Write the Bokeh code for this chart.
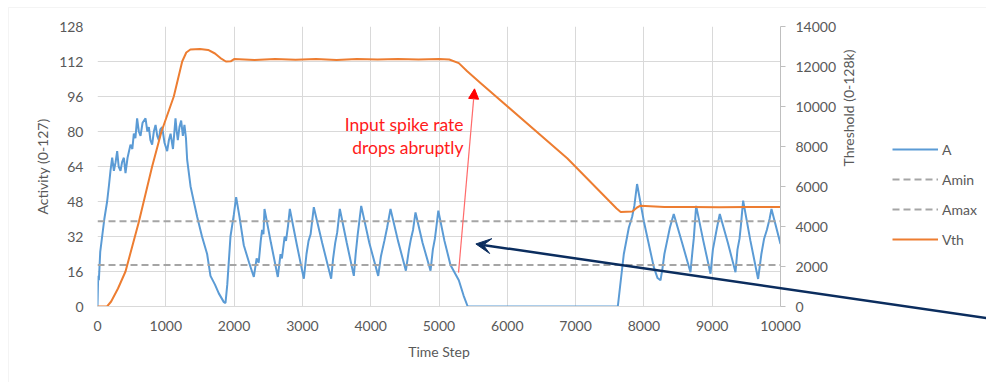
import math
from bokeh.plotting import figure
from bokeh.layouts import column
from bokeh.models import (Range1d, LinearAxis, Legend, LegendItem, Arrow, VeeHead,
                          NormalHead, Label, BoxAnnotation, FixedTicker)
from bokeh.embed import file_html
from bokeh.resources import INLINE

# ---------------- data ----------------
time_a = [0, 10, 20, 40, 68, 100, 141, 170, 190, 215,
          240, 265, 288, 310, 337, 360, 386, 410, 440, 483,
          510, 532, 555, 580, 605, 630, 660, 703, 730, 752,
          775, 800, 825, 850, 875, 898, 920, 947, 980, 1020,
          1045, 1070, 1105, 1142, 1160, 1176, 1200, 1225, 1250, 1273,
          1295, 1313, 1362, 1410, 1459, 1530, 1605, 1654, 1720, 1776,
          1850, 1874, 1900, 1947, 1996, 2030, 2079, 2142, 2220, 2289,
          2330, 2360, 2390, 2410, 2430, 2445, 2540, 2640, 2680, 2700,
          2740, 2760, 2790, 2816, 2920, 3021, 3060, 3090, 3120, 3167,
          3290, 3421, 3450, 3480, 3510, 3548, 3650, 3753, 3780, 3810,
          3830, 3861, 3980, 4110, 4150, 4200, 4240, 4290, 4400, 4515,
          4560, 4590, 4620, 4656, 4760, 4876, 4910, 4940, 4960, 4990,
          5080, 5168, 5290, 5360, 5420, 7618, 7650, 7706, 7779, 7828,
          7860, 7900, 7999, 8145, 8200, 8243, 8270, 8300, 8340, 8380,
          8437, 8560, 8682, 8710, 8730, 8765, 8870, 8975, 9010, 9040,
          9070, 9111, 9230, 9341, 9370, 9400, 9420, 9453, 9560, 9672,
          9720, 9760, 9800, 9840, 9868, 10000]
activity = [0, 14, 12, 25, 32, 40, 48, 56, 62, 68,
            62, 66, 71, 64, 62, 66, 68, 61, 68, 74,
            72, 79, 77, 86, 80, 78, 84, 86, 80, 82,
            76, 74, 80, 83, 78, 76, 81, 82, 75, 71,
            76, 79, 72, 86, 80, 76, 82, 85, 78, 83,
            77, 67, 55, 48, 41, 32, 24, 14, 10, 6,
            2, 1.6, 10, 32, 42, 50, 41, 28, 20, 13.5,
            22, 20, 30, 35, 33, 44.6, 29, 13.5, 24, 22,
            32, 30, 37, 44.6, 28, 12.7, 24, 30, 33, 45.4,
            29, 12.7, 22, 29, 34, 44.6, 29, 14, 24, 33,
            38, 46, 29, 14, 23, 30, 36, 44.6, 30, 16.4,
            26, 31, 35, 43, 29, 16.4, 26, 31, 36, 43.8,
            30, 19, 12, 5, 0, 0, 8.8, 24, 36, 41,
            46, 56, 39, 18, 13, 12, 17, 24, 30, 36,
            42.3, 29, 15.7, 25, 31, 46, 30, 15, 26, 31,
            36, 42.3, 29, 15.7, 26, 31, 37, 48.4, 30, 12.6,
            24, 31, 35, 40, 44.6, 28.6]

time_v = [0, 140, 200, 300, 410, 605, 800, 937, 1117, 1240,
          1300, 1360, 1500, 1620, 1720, 1800, 1880, 1950, 2000, 2300,
          2600, 2900, 3200, 3500, 3800, 4100, 4400, 4700, 5000, 5150,
          5290, 5413, 5607, 6877, 7600, 7660, 7830, 7900, 7950, 8300,
          8700, 9100, 9500, 10000]
vth = [0, 0, 250, 900, 1750, 4230, 7000, 8750, 10500, 12250,
       12700, 12850, 12880, 12830, 12650, 12420, 12250, 12260, 12370, 12330,
       12380, 12340, 12380, 12330, 12370, 12350, 12380, 12350, 12380, 12350,
       12170, 11760, 11180, 7410, 4900, 4730, 4750, 4950, 5040, 4980,
       4980, 4960, 4980, 4970]

time_limits = [0, 10000]
amin_vals = [19, 19]
amax_vals = [39, 39]

x_ticks = [0, 1000, 2000, 3000, 4000, 5000, 6000, 7000, 8000, 9000, 10000]
left_ticks = [0, 16, 32, 48, 64, 80, 96, 112, 128]
right_ticks = [0, 2000, 4000, 6000, 8000, 10000, 12000, 14000]
series_names = ["A", "Amin", "Amax", "Vth"]

# annotation anchors (chart data coordinates)
red_arrow = dict(x0=5286, y0=15.5, x1=5520, y1=99.5)
navy_arrow = dict(x0=14500, y0=-12.0, x1=5540, y1=28.6)
note_x = 5359
note_lines = [("Input spike rate", 83.1), ("drops abruptly", 72.7)]

# ---------------- layout / style ----------------
W, H = 986, 382
FL, FR, FT, FB = 97, 206, 26, 76          # frame borders
XMAX, YMAX, VMAX = 10000, 128, 14000
FONT = "Lato"
TXT = "#595959"
GRID = "#D9D9D9"
BLUE = "#5B9BD5"
ORANGE = "#ED7D31"
GRAY = "#A5A5A5"
NAVY = "#0B2D5E"

fw, fh = W - FL - FR, H - FT - FB
kx, ky = XMAX / fw, YMAX / fh

p = figure(width=W, height=H, x_range=Range1d(0, XMAX), y_range=Range1d(0, YMAX),
           output_backend="svg", toolbar_location=None, frame_align=False,
           min_border_left=FL, min_border_right=FR, min_border_top=FT, min_border_bottom=FB)
p.extra_y_ranges = {"vth": Range1d(0, VMAX)}
p.outline_line_color = None
p.background_fill_color = "white"
p.border_fill_color = "white"

xa = p.xaxis[0]
xa.ticker = FixedTicker(ticks=x_ticks)
xa.axis_label = "Time Step"
ya = p.yaxis[0]
ya.ticker = FixedTicker(ticks=left_ticks)
ya.axis_label = "Activity (0-127)"
ra = LinearAxis(y_range_name="vth", ticker=FixedTicker(ticks=right_ticks),
                axis_label="Threshold (0-128k)")
p.add_layout(ra, "right")

for ax in (xa, ya, ra):
    ax.major_label_text_font = FONT
    ax.major_label_text_font_size = "14px"
    ax.major_label_text_color = TXT
    ax.axis_label_text_font = FONT
    ax.axis_label_text_font_size = "14px"
    ax.axis_label_text_color = TXT
    ax.axis_label_text_font_style = "normal"
    ax.minor_tick_line_color = None
    ax.major_tick_in = 0

xa.major_tick_line_color = None
xa.major_tick_out = 0
xa.axis_line_color = GRID
xa.major_label_standoff = 14
xa.axis_label_standoff = 9

ya.major_tick_line_color = None
ya.major_tick_out = 0
ya.axis_line_color = None
ya.major_label_standoff = 14
ya.axis_label_standoff = 5

ra.axis_line_color = "#BFBFBF"
ra.major_tick_line_color = "#BFBFBF"
ra.major_tick_out = 5
ra.major_label_standoff = 10
ra.axis_label_standoff = 9
ra.axis_label_orientation = math.pi / 2

p.xgrid.ticker = FixedTicker(ticks=x_ticks)
p.ygrid.ticker = FixedTicker(ticks=left_ticks)
p.xgrid.grid_line_color = GRID
p.ygrid.grid_line_color = GRID

styles = [dict(line_color=BLUE, line_width=2),
          dict(line_color=GRAY, line_width=2, line_dash="7 4"),
          dict(line_color=GRAY, line_width=2, line_dash="7 4"),
          dict(line_color=ORANGE, line_width=2)]

p.line(time_a, activity, **styles[0])
p.line(time_limits, amin_vals, **styles[1])
p.line(time_limits, amax_vals, **styles[2])
p.line(time_v, vth, y_range_name="vth", **styles[3])

# ---------------- transparent overlay over the whole canvas ----------------
ov = figure(width=W, height=H,
            x_range=Range1d(-FL * kx, XMAX + FR * kx),
            y_range=Range1d(-FB * ky, YMAX + FT * ky),
            x_axis_type=None, y_axis_type=None,
            output_backend="svg", toolbar_location=None, frame_align=False,
            min_border=0, min_border_left=0, min_border_right=0,
            min_border_top=0, min_border_bottom=0)
ov.grid.visible = False
ov.outline_line_color = None
ov.background_fill_color = None
ov.border_fill_color = None
ov.styles = {"position": "absolute", "top": "0px", "left": "0px"}

# legend key renderers: same styles, placed far outside the visible area
off = [-10 * XMAX, -9 * XMAX]
off_y = [-10 * YMAX, -10 * YMAX]
items = []
for name, st in zip(series_names, styles):
    r = ov.line(off, off_y, **st)
    items.append(LegendItem(label=name, renderers=[r]))
legend = Legend(items=items, location=(892, 133), orientation="vertical",
                glyph_width=46, glyph_height=20, label_height=20, spacing=10,
                padding=0, margin=0, label_standoff=4,
                border_line_color=None, background_fill_alpha=0,
                label_text_font=FONT, label_text_font_size="14px", label_text_color=TXT)
ov.add_layout(legend)

ov.add_layout(Arrow(end=NormalHead(size=10, fill_color="#FF0000", line_color="#FF0000"),
                    x_start=red_arrow["x0"], y_start=red_arrow["y0"],
                    x_end=red_arrow["x1"], y_end=red_arrow["y1"],
                    line_color="#FF6A6A", line_width=1.2))
ov.add_layout(Arrow(end=VeeHead(size=15, fill_color=NAVY, line_color=NAVY),
                    x_start=navy_arrow["x0"], y_start=navy_arrow["y0"],
                    x_end=navy_arrow["x1"], y_end=navy_arrow["y1"],
                    line_color=NAVY, line_width=2.5))
for txt, yy in note_lines:
    ov.add_layout(Label(x=note_x, y=yy, text=txt, text_align="right",
                        text_baseline="alphabetic", text_color="#FF1A1A",
                        text_font=FONT, text_font_size="17.5px"))

# outer chart border (left / top edges visible)
ov.add_layout(BoxAnnotation(left=(8 - FL) * kx, right=XMAX + 400 * kx,
                            top=YMAX + (FT - 7) * ky, bottom=-400 * ky,
                            fill_alpha=0, line_color=GRID, line_width=1))

root = column(p, ov, width=W, height=H, styles={"position": "relative"})
open("out.html", "w").write(file_html(root, INLINE))
